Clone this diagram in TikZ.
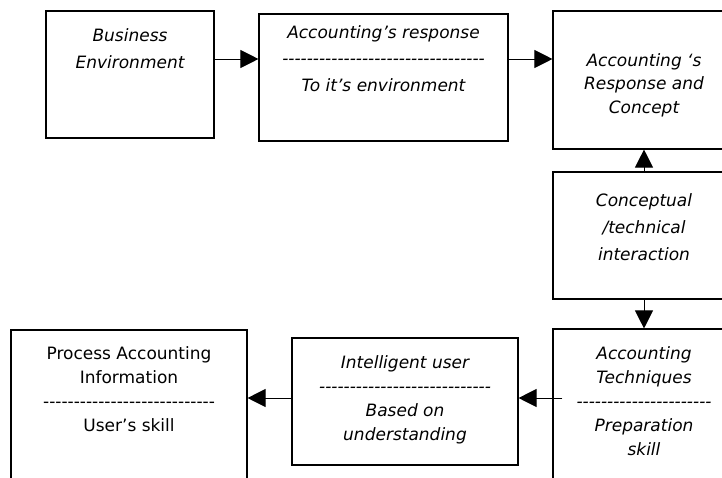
\documentclass[tikz,border=0pt]{standalone}
\usepackage{fontspec}
\setmainfont{DejaVu Sans}[Ligatures=TeXOff]
\usetikzlibrary{positioning,arrows.meta}
\tikzset{
  box/.style={draw,line width=1.1pt,inner sep=0pt},
  txt/.style={align=center,inner sep=0pt,font=\fontsize{17}{24}\selectfont\itshape},
  widetxt/.style={txt,font=\fontsize{17}{27}\selectfont\itshape},
  arr/.style={-{Triangle[length=18pt,width=18pt]},line width=1pt}
}
\begin{document}
\begin{tikzpicture}[x=1pt,y=-1pt]
    \useasboundingbox (0,0) rectangle (722,477);
    \node[box,minimum width=168pt,minimum height=127pt] (env) at (130,74.5) {};
    \node[box,minimum width=249pt,minimum height=127pt] (resp) at (383.5,77.5) {};
    \node[box,minimum width=182pt,minimum height=138pt] (concept) at (644,80) {};
    \node[box,minimum width=182pt,minimum height=127pt] (inter) at (644,235.5) {};
    \node[box,minimum width=182pt,minimum height=171pt] (tech) at (644,414.5) {};
    \node[box,minimum width=226pt,minimum height=127pt] (user) at (405,401.5) {};
    \node[box,minimum width=236pt,minimum height=170pt] (proc) at (129,415) {};

    \node[widetxt,below=17.5pt of env.north] (envtxt) {Business\\Environment};
    \node[txt,below=11.5pt of resp.north,font=\fontsize{17}{26.5}\selectfont\itshape] (resptxt)
        {Accounting’s response\\---------------------------------\\To it’s environment};
    \node[txt,below=42.5pt of concept.north,font=\fontsize{17}{23.5}\selectfont\itshape] (concepttxt)
        {Accounting ‘s\\Response and\\Concept};
    \node[widetxt,below=21.5pt of inter.north] (intertxt) {Conceptual\\/technical\\interaction};
    \node[txt,below=17.5pt of tech.north] (techtxt)
        {Accounting\\Techniques\\----------------------\\Preparation\\skill};
    \node[txt,below=17.5pt of user.north] (usertxt)
        {Intelligent user\\----------------------------\\Based on\\understanding};
    \node[txt,below=16.5pt of proc.north,font=\fontsize{17}{24}\selectfont] (proctxt)
        {Process Accounting\\Information\\----------------------------\\User’s skill};

    \coordinate (a1) at ([yshift=15.5pt]env.east);
    \coordinate (a2) at ([yshift=18.5pt]resp.east);
    \coordinate (a5) at ([xshift=10pt,yshift=16.5pt]tech.west);
    \coordinate (a6) at ([yshift=3.5pt]user.west);
    \draw[arr] (a1) -- (a1 -| resp.west);
    \draw[arr] (a2) -- (a2 -| concept.west);
    \draw[arr] (inter.north) -- (concept.south);
    \draw[arr] (inter.south) -- (tech.north);
    \draw[arr] (a5) -- (a5 -| user.east);
    \draw[arr] (a6) -- (a6 -| proc.east);
\end{tikzpicture}
\end{document}
